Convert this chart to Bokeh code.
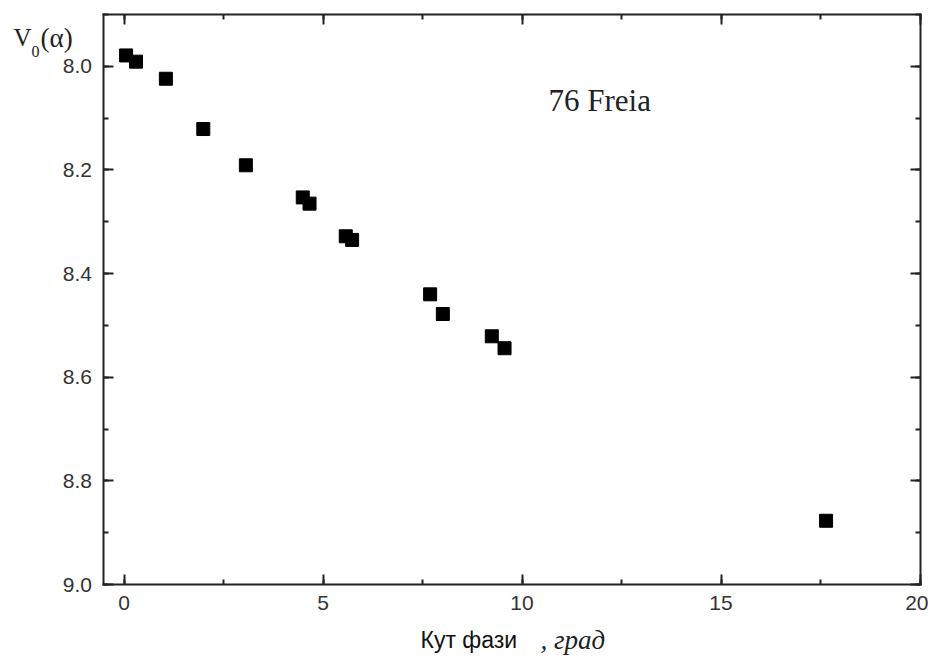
from bokeh.plotting import figure
from bokeh.models import Range1d, LinearAxis, SingleIntervalTicker, Label, ColumnDataSource, NumeralTickFormatter
from bokeh.embed import file_html
from bokeh.resources import INLINE

# Data
phase_angle = [0.05, 0.30, 1.05, 1.99, 3.06, 4.49, 4.66, 5.57, 5.73, 7.69, 8.01, 9.24, 9.56, 17.64]
magnitude = [7.979, 7.991, 8.024, 8.121, 8.191, 8.253, 8.265, 8.328, 8.335, 8.440, 8.478, 8.521, 8.544, 8.877]

x_limits = (-0.53, 20.0)      # visible axis box, x
y_limits = (7.9, 9.0)         # visible axis box, y (drawn inverted)
x_ticks_interval = 5
y_ticks_interval = 0.2
title_text = "76 Freia"
x_label_main = "Кут фази"
x_label_unit = ", град"

# Layout (pixels) of the visible box inside the canvas
W, H = 928, 660
BOX_L, BOX_R, BOX_T, BOX_B = 102.5, 919.5, 14.0, 584.0

ppx = (BOX_R - BOX_L) / (x_limits[1] - x_limits[0])
ppy = (BOX_B - BOX_T) / (y_limits[1] - y_limits[0])
x_start = x_limits[0] - BOX_L / ppx
x_end = x_limits[1] + (W - BOX_R) / ppx
y_top = y_limits[0] - BOX_T / ppy
y_bottom = y_limits[1] + (H - BOX_B) / ppy

def px_x(px):
    return x_limits[0] + (px - BOX_L) / ppx

def px_y(py):
    return y_limits[0] + (py - BOX_T) / ppy

AX = "#222222"
LBL = "#333333"

p = figure(width=W, height=H, output_backend="svg", toolbar_location=None,
           x_range=Range1d(x_start, x_end), y_range=Range1d(y_bottom, y_top),
           min_border=0, min_border_left=0, min_border_right=0,
           min_border_top=0, min_border_bottom=0)
p.grid.visible = False
p.background_fill_color = "white"
p.border_fill_color = "white"
p.outline_line_color = None

src = ColumnDataSource(dict(x=phase_angle, y=magnitude))
p.scatter("x", "y", source=src, marker="square", size=13, fill_color="black", line_color="black")

def style(ax, interval, loc, bounds, labels=True):
    ax.ticker = SingleIntervalTicker(interval=interval, num_minor_ticks=2)
    ax.fixed_location = loc
    ax.bounds = bounds
    ax.axis_line_color = AX
    ax.axis_line_width = 2
    ax.axis_line_cap = "square"
    ax.major_tick_line_color = AX
    ax.major_tick_line_width = 2
    ax.minor_tick_line_color = AX
    ax.minor_tick_line_width = 2
    ax.major_tick_in = 10
    ax.major_tick_out = 0
    ax.minor_tick_in = 5
    ax.minor_tick_out = 0
    if labels:
        ax.major_label_text_font = "Liberation Sans"
        ax.major_label_text_font_size = "21px"
        ax.major_label_text_color = LBL
        ax.major_label_standoff = 11
    else:
        ax.major_label_text_font_size = "0px"
        ax.major_label_text_color = None
        ax.major_label_standoff = 0

style(p.xaxis[0], x_ticks_interval, y_limits[1], x_limits)
style(p.yaxis[0], y_ticks_interval, x_limits[0], y_limits)
p.yaxis[0].formatter = NumeralTickFormatter(format="0.0")

top = LinearAxis()
style(top, x_ticks_interval, y_limits[0], x_limits, labels=False)
p.add_layout(top, "above")
right = LinearAxis()
style(right, y_ticks_interval, x_limits[1], y_limits, labels=False)
p.add_layout(right, "right")

# Annotation text
p.add_layout(Label(x=px_x(548), y=px_y(100), text=title_text, text_font="Liberation Serif",
                   text_font_size="31px", text_color="#222222", text_baseline="alphabetic"))

# y-axis label V0(alpha), horizontal at top-left
p.add_layout(Label(x=px_x(13), y=px_y(37), text="V", text_font="Liberation Serif",
                   text_font_size="25px", text_color="#222222", text_baseline="alphabetic"))
p.add_layout(Label(x=px_x(31), y=px_y(51), text="0", text_font="Liberation Serif",
                   text_font_size="16px", text_color="#222222", text_baseline="alphabetic"))
p.add_layout(Label(x=px_x(40), y=px_y(37), text="(α)", text_font="Liberation Serif",
                   text_font_size="27px", text_color="#222222", text_baseline="alphabetic"))

# x-axis label
p.add_layout(Label(x=px_x(420), y=px_y(639), text=x_label_main, text_font="Liberation Sans",
                   text_font_size="23px", text_color="#111111", text_baseline="alphabetic"))
p.add_layout(Label(x=px_x(540), y=px_y(639), text=x_label_unit, text_font="Liberation Serif",
                   text_font_style="italic", text_font_size="27px", text_color="#222222",
                   text_baseline="alphabetic"))

open("out.html", "w").write(file_html(p, INLINE))
